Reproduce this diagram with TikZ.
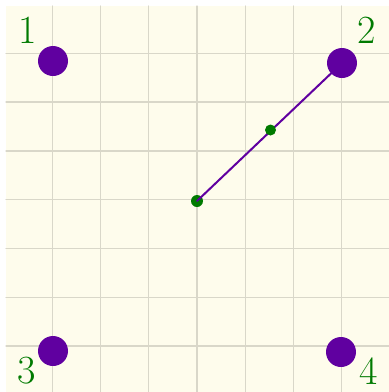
\documentclass[tikz,border=0pt]{standalone}
\usetikzlibrary{positioning}
\definecolor{cPaper}{HTML}{FEFCEC}
\definecolor{cGrid}{HTML}{D9D7C9}
\definecolor{cPurple}{HTML}{6000A0}
\definecolor{cGreen}{HTML}{007A00}

\begin{document}
\begin{tikzpicture}[
 x=1pt,y=-1pt,line cap=round,line join=round,
 corner/.style={circle,fill=cPurple,inner sep=0pt,minimum size=30pt},
 pick/.style={circle,fill=cGreen,inner sep=0pt,minimum size=12pt},
 tag/.style={text=cGreen,font=\fontsize{40}{40}\selectfont,inner sep=0pt},
 gridline/.style={draw=cGrid,line width=1.3pt},
 seg/.style={draw=cPurple,line width=2pt}]
\path[use as bounding box] (0,0) rectangle (389,392);
\fill[cPaper] (6,6) rectangle (389,392);

\foreach \i in {0,...,6} {
  \pgfmathsetmacro{\xx}{52.3+48.25*\i}
  \pgfmathsetmacro{\yy}{53.3+48.8*\i}
  \draw[gridline] (\xx,6) -- (\xx,392);
  \draw[gridline] (6,\yy) -- (389,\yy);
}

\node[corner] (p1) at (53,61) {};
\node[corner] (p2) at (342,63) {};
\node[corner] (p3) at (53,351) {};
\node[corner] (p4) at (341,352) {};

\node[pick] (start) at (197,201) {};
\draw[seg] (start.center) -- (p2.center);
\node[pick,minimum size=11pt] (half) at (270.5,130) {};

\node[tag] (lab1) at (28,30) {1};
\node[tag] (lab2) at (367,30) {2};
\node[tag] (lab3) at (27,371) {3};
\node[tag] (lab4) at (369,371) {4};
\end{tikzpicture}
\end{document}
